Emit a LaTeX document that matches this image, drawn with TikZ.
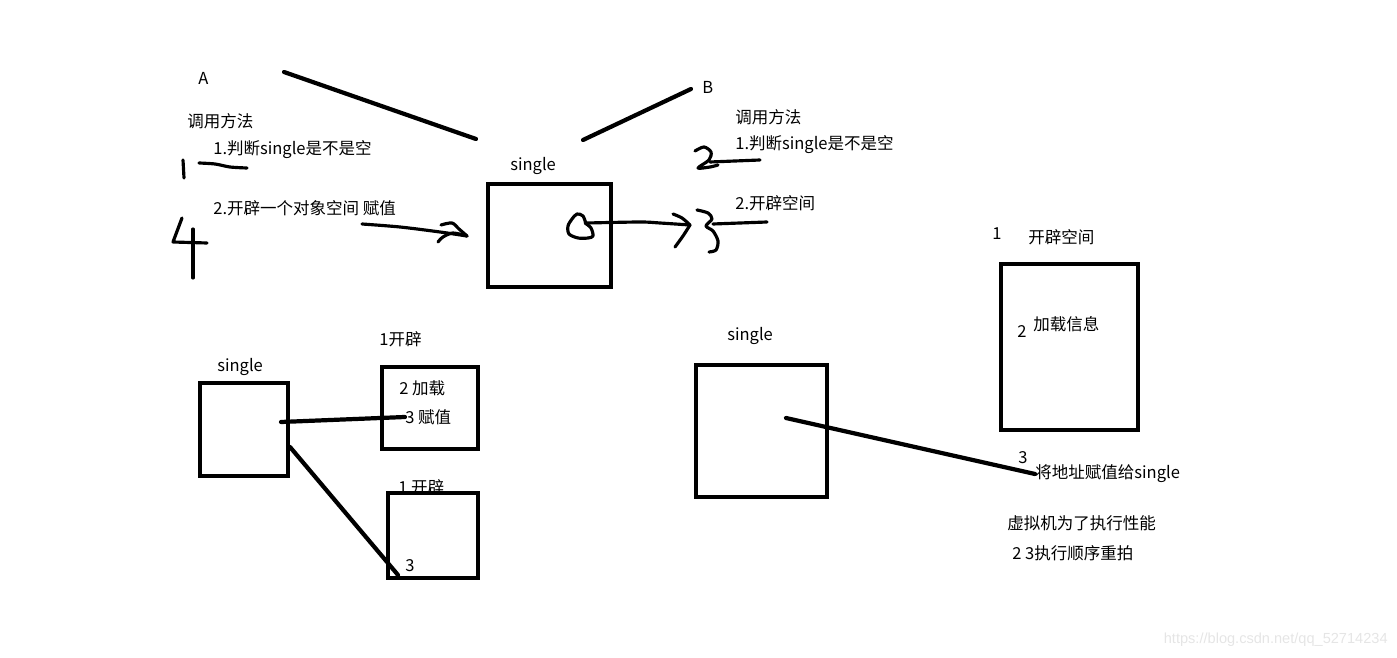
\documentclass[tikz,border=0pt]{standalone}
\usepackage{fontspec}
\setmainfont{Noto Sans CJK SC}
\newfontfamily\wmfont{Liberation Sans}
\usetikzlibrary{fit}
\begin{document}
\begin{tikzpicture}[x=0.02cm,y=-0.02cm,
  lbl/.style={anchor=west,inner sep=0pt,font=\fontsize{9.4pt}{11pt}\selectfont},
  box/.style={draw,line width=2.2pt,inner sep=0pt},
  thickline/.style={line width=2.4pt,line cap=round},
  hand/.style={line width=1.8pt,line cap=round,line join=round}]
\useasboundingbox (0,0) rectangle (1397,658);

% ---------- top left ----------
\node[lbl] (A) at (198,78) {A};
\node[lbl] (callA) at (187,121) {调用方法};
\node[lbl] (a1) at (213,150) {1.判断single是不是空};
\node[lbl] (a2) at (213,208) {2.开辟一个对象空间 赋值};
\node[lbl] (s1) at (510,166) {single};
\node[box,fit={(488,184)(611,287)}] (box1) {};
\coordinate (lA1) at (284,72);
\coordinate (lA2) at (476,139);
\draw[thickline] (lA1) -- (lA2);
% hand "1"
\draw[hand] (183,160) -- (184,178);
\draw[hand] plot[smooth] coordinates {(199,163)(215,164)(230,167)(247,168)};
% hand "4"
\draw[hand] (182,218) -- (173,242) -- (207,243);
\draw[hand] (193,229) -- (193,278);
% hand arrow to box
\coordinate (arrS) at (362,224);
\coordinate (arrE) at (467,236);
\draw[hand] plot[smooth] coordinates {(arrS)(400,227)(440,232)(arrE)};
\draw[hand] plot[smooth] coordinates {(441,225)(452,223)(459,229)(arrE)};
\draw[hand] plot[smooth] coordinates {(438,242)(443,237)(453,233)(arrE)};
% loop inside box
\draw[hand] plot[smooth] coordinates {(586,224)(583,216)(577,214)(572,219)(568,226)(569,234)(578,238)(588,238)(593,236)(591,228)(585,223)};
\coordinate (loop) at (587,223);

% ---------- top right ----------
\node[lbl] (B) at (702,87) {B};
\coordinate (lB1) at (583,140);
\coordinate (lB2) at (691,89);
\draw[thickline] (lB1) -- (lB2);
\node[lbl] (callB) at (735,117) {调用方法};
\node[lbl] (b1) at (735,145) {1.判断single是不是空};
\node[lbl] (b2) at (735,203) {2.开辟空间};
% arrow from loop
\coordinate (arr2E) at (690,225);
\draw[hand] plot[smooth] coordinates {(loop)(640,222)(660,223)(arr2E)};
\draw[hand] plot[smooth] coordinates {(673,214)(682,218)(arr2E)};
\draw[hand] plot[smooth] coordinates {(675,247)(683,236)(arr2E)};
% hand "3"
\draw[hand] plot[smooth] coordinates {(697,210)(708,213)(712,219)(706,226)(713,231)(718,241)(716,250)(709,252)};
\draw[hand] plot[smooth] coordinates {(713,224)(740,223)(767,222)};
% hand "2"
\draw[hand] plot[smooth] coordinates {(695,151)(704,147)(711,152)(709,160)(698,168)(710,167)(718,165)};
\draw[hand] (710,162) -- (760,160);

% ---------- bottom left ----------
\node[lbl] (k1) at (379,339) {1开辟};
\node[lbl] (s2) at (217,367) {single};
\node[box,fit={(200,383)(288,476)}] (box2) {};
\node[box,fit={(382,367)(478,449)}] (box3) {};
\node[lbl] (j2) at (399,388) {2 加载};
\node[lbl] (f3) at (405,417) {3 赋值};
\node[lbl] (k2) at (398,487) {1 开辟};
\node[box,fit={(388,493)(478,578)}] (box4) {};
\node[lbl] (n3) at (405,566) {3};
\coordinate (c2a) at (281,422);
\coordinate (c2b) at (290,447);
\coordinate (c2c) at (398,575);
\draw[thickline] (c2a) -- (f3.west);
\draw[thickline] (c2b) -- (c2c);

% ---------- bottom right ----------
\node[lbl] (r1) at (992,234) {1};
\node[lbl] (rk) at (1028,237) {开辟空间};
\node[box,fit={(1001,264)(1138,430)}] (box5) {};
\node[lbl] (r2) at (1017,332) {2};
\node[lbl] (rj) at (1033,324) {加载信息};
\node[lbl] (s3) at (727,336) {single};
\node[box,fit={(696,365)(827,497)}] (box6) {};
\node[lbl] (r3) at (1018,458) {3};
\node[lbl] (addr) at (1035,474) {将地址赋值给single};
\coordinate (c3) at (786,418);
\draw[thickline] (c3) -- (addr.west);
\node[lbl] (vm1) at (1007,523) {虚拟机为了执行性能};
\node[lbl] (vm2) at (1012,553) {2 3执行顺序重拍};

% watermark
\node[anchor=east,inner sep=0pt,text=black!10,font=\wmfont\fontsize{8.3pt}{10pt}\selectfont] (wm) at (1388,640) {https://blog.csdn.net/qq\_52714234};
\end{tikzpicture}
\end{document}
